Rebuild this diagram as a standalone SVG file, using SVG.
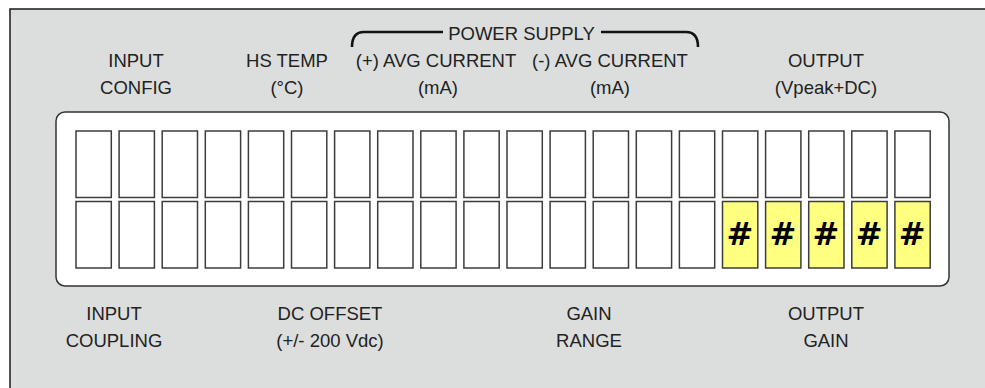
<svg xmlns="http://www.w3.org/2000/svg" width="985" height="388" viewBox="0 0 985 388">
<style>
  .lbl { font-family: "Liberation Sans", Arial, sans-serif; font-size: 18.5px; fill: #222; text-anchor: middle; }
  .cell { fill: #ffffff; stroke: #3c3c3c; stroke-width: 1.5; }
  .hot { fill: #ffff80; stroke: #3c3c3c; stroke-width: 1.5; }
  .hash { font-family: "DejaVu Sans", Verdana, sans-serif; font-size: 32px; font-weight: bold; fill: #000; text-anchor: middle; }
  .brk { fill: none; stroke: #111; stroke-width: 2.6; }
</style>
<rect x="0" y="0" width="985" height="388" fill="#ffffff"/>
<g id="frame">
  <rect x="10" y="9" width="1000" height="400" fill="#dcdedd" stroke="#1a1a1a" stroke-width="1.5"/>
</g>
<g id="top-labels">
  <g id="input-config"><text class="lbl" x="136" y="67">INPUT</text><text class="lbl" x="136" y="94">CONFIG</text></g>
  <g id="hs-temp"><text class="lbl" x="287" y="67">HS TEMP</text><text class="lbl" x="287" y="94">(°C)</text></g>
  <g id="power-supply">
    <path class="brk" d="M352,47 Q352,32 364,32 L443,32"/>
    <path class="brk" d="M601,32 L686,32 Q698,32 698,47"/>
    <text class="lbl" x="521.5" y="39.5">POWER SUPPLY</text>
  </g>
  <g id="pos-current"><text class="lbl" x="436" y="67">(+) AVG CURRENT</text><text class="lbl" x="438" y="94">(mA)</text></g>
  <g id="neg-current"><text class="lbl" x="610" y="67">(-) AVG CURRENT</text><text class="lbl" x="610" y="94">(mA)</text></g>
  <g id="output"><text class="lbl" x="826" y="67">OUTPUT</text><text class="lbl" x="826" y="94">(Vpeak+DC)</text></g>
</g>
<g id="display">
  <rect x="56" y="112" width="893" height="174" rx="9" ry="9" fill="#ffffff" stroke="#333" stroke-width="1.5"/>
  <g id="row-top">
    <rect class="cell" x="76" y="131" width="35.3" height="66.5"/>
    <rect class="cell" x="119.1" y="131" width="35.3" height="66.5"/>
    <rect class="cell" x="162.2" y="131" width="35.3" height="66.5"/>
    <rect class="cell" x="205.3" y="131" width="35.3" height="66.5"/>
    <rect class="cell" x="248.4" y="131" width="35.3" height="66.5"/>
    <rect class="cell" x="291.5" y="131" width="35.3" height="66.5"/>
    <rect class="cell" x="334.6" y="131" width="35.3" height="66.5"/>
    <rect class="cell" x="377.7" y="131" width="35.3" height="66.5"/>
    <rect class="cell" x="420.8" y="131" width="35.3" height="66.5"/>
    <rect class="cell" x="463.9" y="131" width="35.3" height="66.5"/>
    <rect class="cell" x="507" y="131" width="35.3" height="66.5"/>
    <rect class="cell" x="550.1" y="131" width="35.3" height="66.5"/>
    <rect class="cell" x="593.2" y="131" width="35.3" height="66.5"/>
    <rect class="cell" x="636.3" y="131" width="35.3" height="66.5"/>
    <rect class="cell" x="679.4" y="131" width="35.3" height="66.5"/>
    <rect class="cell" x="722.5" y="131" width="35.3" height="66.5"/>
    <rect class="cell" x="765.6" y="131" width="35.3" height="66.5"/>
    <rect class="cell" x="808.7" y="131" width="35.3" height="66.5"/>
    <rect class="cell" x="851.8" y="131" width="35.3" height="66.5"/>
    <rect class="cell" x="894.9" y="131" width="35.3" height="66.5"/>
  </g>
  <g id="row-bottom">
    <rect class="cell" x="76" y="201.5" width="35.3" height="66.5"/>
    <rect class="cell" x="119.1" y="201.5" width="35.3" height="66.5"/>
    <rect class="cell" x="162.2" y="201.5" width="35.3" height="66.5"/>
    <rect class="cell" x="205.3" y="201.5" width="35.3" height="66.5"/>
    <rect class="cell" x="248.4" y="201.5" width="35.3" height="66.5"/>
    <rect class="cell" x="291.5" y="201.5" width="35.3" height="66.5"/>
    <rect class="cell" x="334.6" y="201.5" width="35.3" height="66.5"/>
    <rect class="cell" x="377.7" y="201.5" width="35.3" height="66.5"/>
    <rect class="cell" x="420.8" y="201.5" width="35.3" height="66.5"/>
    <rect class="cell" x="463.9" y="201.5" width="35.3" height="66.5"/>
    <rect class="cell" x="507" y="201.5" width="35.3" height="66.5"/>
    <rect class="cell" x="550.1" y="201.5" width="35.3" height="66.5"/>
    <rect class="cell" x="593.2" y="201.5" width="35.3" height="66.5"/>
    <rect class="cell" x="636.3" y="201.5" width="35.3" height="66.5"/>
    <rect class="cell" x="679.4" y="201.5" width="35.3" height="66.5"/>
    <rect class="hot" x="722.5" y="201.5" width="35.3" height="66.5"/>
    <rect class="hot" x="765.6" y="201.5" width="35.3" height="66.5"/>
    <rect class="hot" x="808.7" y="201.5" width="35.3" height="66.5"/>
    <rect class="hot" x="851.8" y="201.5" width="35.3" height="66.5"/>
    <rect class="hot" x="894.9" y="201.5" width="35.3" height="66.5"/>
    <text class="hash" x="739.8" y="245">#</text>
    <text class="hash" x="782.9" y="245">#</text>
    <text class="hash" x="826" y="245">#</text>
    <text class="hash" x="869.1" y="245">#</text>
    <text class="hash" x="912.2" y="245">#</text>
  </g>
</g>
<g id="bottom-labels">
  <g id="input-coupling"><text class="lbl" x="114" y="319.5">INPUT</text><text class="lbl" x="114" y="346.5">COUPLING</text></g>
  <g id="dc-offset"><text class="lbl" x="330" y="319.5">DC OFFSET</text><text class="lbl" x="330" y="346.5">(+/- 200 Vdc)</text></g>
  <g id="gain-range"><text class="lbl" x="589" y="319.5">GAIN</text><text class="lbl" x="589" y="346.5">RANGE</text></g>
  <g id="output-gain"><text class="lbl" x="826" y="319.5">OUTPUT</text><text class="lbl" x="826" y="346.5">GAIN</text></g>
</g>
<g id="connectors"/>
</svg>
